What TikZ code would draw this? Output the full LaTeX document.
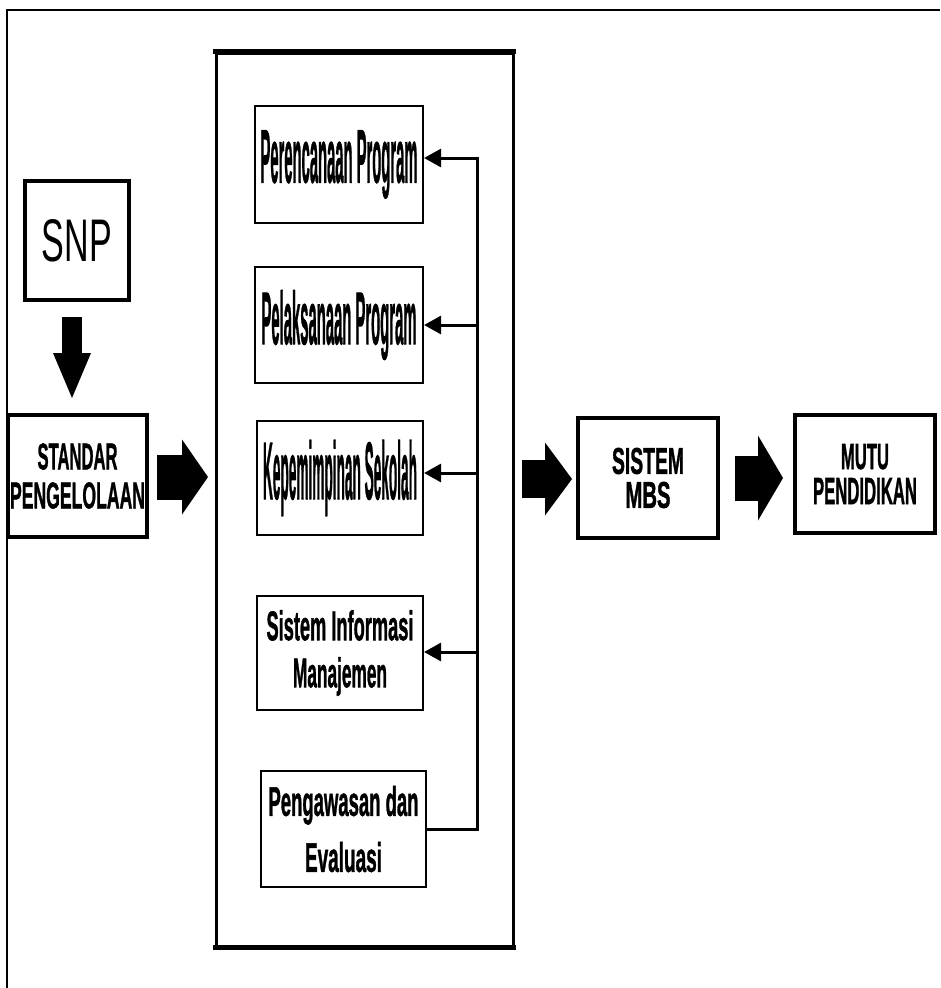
\documentclass[tikz,border=0pt]{standalone}
\usepackage{fontspec}
\setmainfont{Liberation Sans}[BoldFeatures={FakeBold=1.5}]
\usepackage{graphicx}
\usetikzlibrary{arrows.meta}
\newcommand{\fitt}[3]{\resizebox{#1pt}{#2pt}{#3}}
\begin{document}
\begin{tikzpicture}[x=1pt,y=-1pt,
  box/.style={draw, rectangle, inner sep=0pt, align=center, fill=white, line width=2.4pt},
  thickbox/.style={box, line width=3.5pt},
  blockarrow/.style={line width=#1, line cap=butt},
  fb/.style={line width=3pt},
  fbtip/.style={fb, -{Triangle[length=17pt,width=19pt,line width=0pt]}}
]
\useasboundingbox (0,0) rectangle (940,988);
% frame
\draw[line width=1.5pt] (7,988) -- (7,10) -- (940,10);

% outer container
\node[draw, rectangle, line width=3pt, minimum width=297pt, minimum height=893pt, inner sep=0pt] (big) at (364.5,499.5) {};
\draw[line width=5pt] ([xshift=-1.5pt]big.north west) -- ([xshift=1.5pt]big.north east);
\draw[line width=5pt] ([xshift=-1.5pt]big.south west) -- ([xshift=1.5pt]big.south east);

% left boxes
\node[thickbox, minimum width=104pt, minimum height=119pt] (snp) at (77,240.5) {\fitt{70}{42}{SNP}};
\node[thickbox, minimum width=139pt, minimum height=122pt, font=\fontsize{20pt}{39pt}\selectfont] (std) at (77.5,476)
  {\fitt{80}{26}{\bfseries STANDAR}\\\fitt{135}{26}{\bfseries PENGELOLAAN}};

% inner boxes
\node[box, minimum width=168pt, minimum height=117pt] (pp) at (339,164.5) {\fitt{157}{52}{\bfseries Perencanaan Program}};
\node[box, minimum width=168pt, minimum height=116pt] (pl) at (339,325) {\fitt{155}{54}{\bfseries Pelaksanaan Program}};
\node[box, minimum width=166pt, minimum height=114pt] (kp) at (340,478) {\fitt{154}{59}{\bfseries Kepemimpinan Sekolah}};
\node[box, minimum width=166pt, minimum height=114pt, font=\fontsize{20pt}{47pt}\selectfont] (sim) at (340,653)
  {\fitt{147}{30}{\bfseries Sistem Informasi}\\\fitt{94}{30}{\bfseries Manajemen}};
\node[box, minimum width=165pt, minimum height=116pt, font=\fontsize{20pt}{56pt}\selectfont] (pev) at (343.5,829)
  {\fitt{150}{30}{\bfseries Pengawasan dan}\\\fitt{77}{30}{\bfseries Evaluasi}};

% right boxes
\node[thickbox, minimum width=140pt, minimum height=120pt] (mbs) at (648,478)
  {\raisebox{-4pt}{\parbox{100pt}{\centering\fontsize{20pt}{34pt}\selectfont\fitt{72}{26}{\bfseries SISTEM}\\\fitt{45}{26}{\bfseries MBS}}}};
\node[thickbox, minimum width=140pt, minimum height=118pt, font=\fontsize{20pt}{35pt}\selectfont] (mutu) at (865,474)
  {\fitt{48}{25}{\bfseries MUTU}\\\fitt{104}{26}{\bfseries PENDIDIKAN}};

% block arrows
\coordinate (d1) at (72,317);
\coordinate (d2) at (72,398);
\draw[blockarrow=20pt, -{Triangle[length=45pt,width=38pt,line width=0pt]}] (d1) -- (d2);
\coordinate (r1s) at (157,477);
\coordinate (r1e) at (208,477);
\draw[blockarrow=45pt, -{Triangle[length=26pt,width=75pt,line width=0pt]}] (r1s) -- (r1e);
\coordinate (r2s) at (522,479);
\coordinate (r2e) at (572,479);
\draw[blockarrow=38pt, -{Triangle[length=27pt,width=73pt,line width=0pt]}] (r2s) -- (r2e);
\coordinate (r3s) at (735,478);
\coordinate (r3e) at (783,478);
\draw[blockarrow=45pt, -{Triangle[length=25pt,width=85pt,line width=0pt]}] (r3s) -- (r3e);

% feedback connector
\coordinate (t1) at (477,158);
\coordinate (t2) at (477,325);
\coordinate (t3) at (477,473);
\coordinate (t4) at (477,652);
\draw[fbtip] (pev.east) -| (t1) -- (t1 -| pp.east);
\draw[fbtip] (t2) -- (t2 -| pl.east);
\draw[fbtip] (t3) -- (t3 -| kp.east);
\draw[fbtip] (t4) -- (t4 -| sim.east);
\end{tikzpicture}
\end{document}
